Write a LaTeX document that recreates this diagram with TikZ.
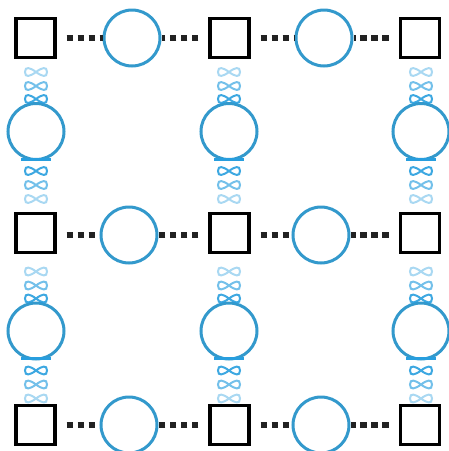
\documentclass[tikz,border=0pt]{standalone}
\usetikzlibrary{calc}
\definecolor{ringblue}{RGB}{51,153,204}
\definecolor{knotblue}{RGB}{40,158,222}
\definecolor{dashgray}{RGB}{34,34,34}
\tikzset{
  site/.style={draw=black, line width=3.2pt, minimum size=39pt, inner sep=0pt},
  ring/.style={draw=ringblue, line width=3pt, circle, minimum size=56pt, inner sep=0pt},
  link/.style={draw=dashgray, line width=5.5pt, dash pattern=on 6.5pt off 4.5pt, shorten <=10pt},
  knot/.pic={\draw[knotblue, line width=2pt] (0,0) .. controls (6,4.5) and (11,6) .. (11,0) .. controls (11,-6) and (6,-4.5) .. (0,0) .. controls (-6,4.5) and (-11,6) .. (-11,0) .. controls (-11,-6) and (-6,-4.5) .. (0,0);}
}
\begin{document}
\begin{tikzpicture}[x=1pt,y=-1pt]
    \useasboundingbox (0,0) rectangle (449,451);
    % sites
    \node[site] (s11) at (35.5,38) {}; \node[site] (s12) at (229.5,38) {}; \node[site] (s13) at (420,38) {};
    \node[site] (s21) at (35.5,233) {}; \node[site] (s22) at (229.5,233) {}; \node[site] (s23) at (420,233) {};
    \node[site] (s31) at (35.5,425) {}; \node[site] (s32) at (229.5,425) {}; \node[site] (s33) at (420,425) {};

    % rings along the rows
    \node[ring] (h11) at (132,38) {}; \node[ring] (h12) at (324,38) {};
    \node[ring] (h21) at (129,235) {}; \node[ring] (h22) at (321,235) {};
    \node[ring] (h31) at (129,425) {}; \node[ring] (h32) at (321,425) {};

    % rings along the columns
    \node[ring] (v11) at (36,131.5) {}; \node[ring] (v12) at (229,131.5) {}; \node[ring] (v13) at (421,131.5) {};
    \node[ring] (v21) at (36,331) {}; \node[ring] (v22) at (229,331) {}; \node[ring] (v23) at (421,331) {};

    % dashed links
    \draw[link] (s11.east |- h11) -- (h11); \draw[link] (s12.west |- h11) -- (h11);
    \draw[link] (s12.east |- h12) -- (h12); \draw[link] (s13.west |- h12) -- (h12);
    \draw[link] (s21.east |- h21) -- (h21); \draw[link] (s22.west |- h21) -- (h21);
    \draw[link] (s22.east |- h22) -- (h22); \draw[link] (s23.west |- h22) -- (h22);
    \draw[link] (s31.east |- h31) -- (h31); \draw[link] (s32.west |- h31) -- (h31);
    \draw[link] (s32.east |- h32) -- (h32); \draw[link] (s33.west |- h32) -- (h32);

    % twisted links
    \foreach \r in {1,2} {
      \foreach \c in {1,2,3} {
        \pic[opacity=.4] at ($(v\r\c.north)+(0,-30)$) {knot};
        \pic[opacity=.65] at ($(v\r\c.north)+(0,-16)$) {knot};
        \pic[opacity=.9] at ($(v\r\c.north)+(0,-3)$) {knot};
        \draw[knotblue, line width=3pt] ($(v\r\c.south)+(-15,-2)$) -- ($(v\r\c.south)+(15,-2)$);
        \pic[opacity=.9] at ($(v\r\c.south)+(0,10)$) {knot};
        \pic[opacity=.65] at ($(v\r\c.south)+(0,24)$) {knot};
        \pic[opacity=.4] at ($(v\r\c.south)+(0,38)$) {knot};
      }
    }
\end{tikzpicture}
\end{document}
